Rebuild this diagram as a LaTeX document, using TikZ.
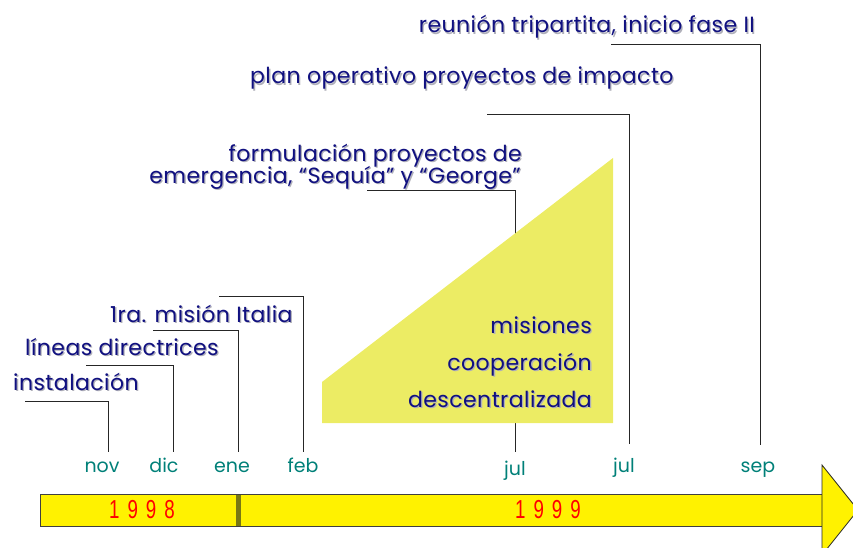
\documentclass[tikz,border=0pt]{standalone}
\usepackage{fontspec}
\setmainfont{Poppins}[LetterSpace=2]
\newfontfamily\yearfont[FakeStretch=0.72]{Liberation Sans}
\newfontfamily\monfont{Poppins}
\definecolor{navyb}{RGB}{16,16,128}
\definecolor{shgray}{RGB}{175,175,185}
\definecolor{monteal}{RGB}{0,128,120}
\definecolor{tri}{RGB}{236,236,100}
\definecolor{barol}{RGB}{120,120,20}
\newcommand{\shtxt}[1]{\leavevmode\rlap{\hspace{1.3pt}\raisebox{-1.3pt}{\color{shgray}#1}}{\color{navyb}#1}}
\begin{document}
\begin{tikzpicture}[x=1pt,y=-1pt,
  lbl/.style={font=\fontsize{22}{23}\selectfont, inner sep=0pt},
  mon/.style={font=\monfont\fontsize{19}{20}\selectfont, text=monteal, inner sep=0pt, anchor=base},
  conn/.style={draw=black!85, line width=0.8pt},
  yr/.style={font=\yearfont\fontsize{26}{26}\selectfont, text=red, inner sep=0pt},
]
\useasboundingbox (0,0) rectangle (853,548);

% connectors (drawn first, triangle covers part of jul line)
\coordinate (h1) at (25,401);  \coordinate (c1) at (108,401); \coordinate (t1) at (108,452);
\coordinate (h2) at (86,365);  \coordinate (c2) at (173,365); \coordinate (t2) at (173,452);
\coordinate (h3) at (153,330); \coordinate (c3) at (238,330); \coordinate (t3) at (238,452);
\coordinate (h4) at (219,296); \coordinate (c4) at (303,296); \coordinate (t4) at (303,452);
\coordinate (h5) at (367,190); \coordinate (c5) at (515,190); \coordinate (t5) at (515,452);
\coordinate (h6) at (487,114); \coordinate (c6) at (629,114); \coordinate (t6) at (629,444);
\coordinate (h7) at (611,44);  \coordinate (c7) at (760,44);  \coordinate (t7) at (760,445);
\foreach \i in {1,...,7} {\draw[conn] (h\i) -- (c\i) -- (t\i);}

% yellow triangle
\fill[tri] (322,423) -- (322,382) -- (613,158) -- (613,423) -- cycle;

% labels
\node[lbl, anchor=base west] (inst) at (13,390) {\shtxt{instalación}};
\node[lbl, anchor=base west] (lin) at (25,355) {\shtxt{líneas directrices}};
\node[lbl, anchor=base west] (mis) at (110,322) {\shtxt{1ra. misión Italia}};
\node[lbl, anchor=base east] (form1) at (522,161) {\shtxt{formulación proyectos de}};
\node[lbl, anchor=base east] (form2) at (521,183) {\shtxt{emergencia, “Sequía” y “George”}};
\node[lbl, anchor=base west] (plan) at (250,84) {\shtxt{plan operativo proyectos de impacto}};
\node[lbl, anchor=base east] (reun) at (755,33) {\shtxt{reunión tripartita, inicio fase II}};
\node[lbl, anchor=base east] (m1) at (592,333) {\shtxt{misiones}};
\node[lbl, anchor=base east] (m2) at (592,370) {\shtxt{cooperación}};
\node[lbl, anchor=base east] (m3) at (592,407) {\shtxt{descentralizada}};

% months
\node[mon] (nov) at (102,472) {nov};
\node[mon] (dic) at (164,472) {dic};
\node[mon] (ene) at (232,472) {ene};
\node[mon] (feb) at (303,472) {feb};
\node[mon] (jul1) at (515,475) {jul};
\node[mon] (jul2) at (624,472) {jul};
\node[mon] (sep) at (758,472) {sep};

% time bar
\draw[fill=yellow, draw=black!75, line width=0.8pt] (40,494) rectangle (822,526);
\fill[barol] (236,495) rectangle (240.5,525.5);
\draw[fill=yellow, draw=black!85, line width=0.8pt] (822,465) -- (858,510) -- (822,555) -- cycle;
\node[yr] (y98) at (142,510) {1\hspace{8pt}9\hspace{8pt}9\hspace{8pt}8};
\node[yr] (y99) at (548,510) {1\hspace{8pt}9\hspace{8pt}9\hspace{8pt}9};
\end{tikzpicture}
\end{document}
